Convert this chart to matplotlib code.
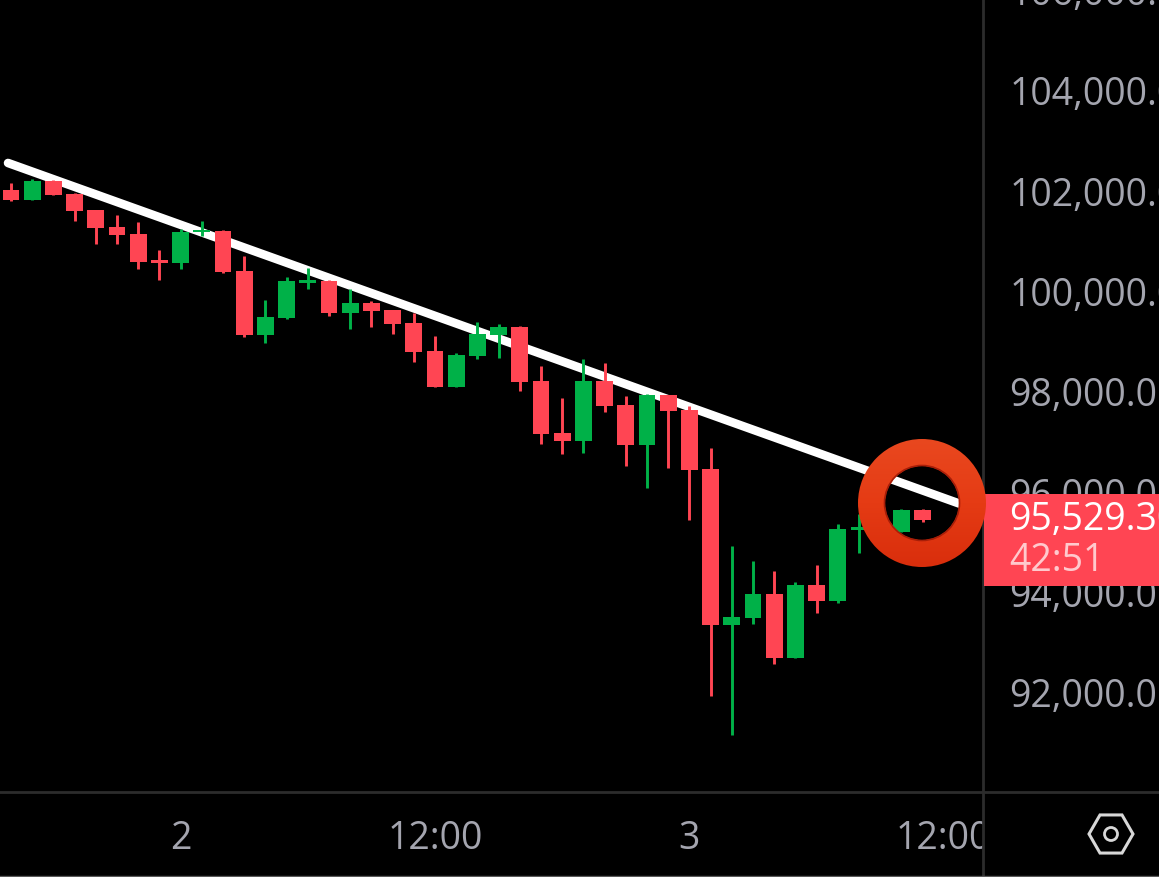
import numpy as np
import matplotlib
matplotlib.use('Agg')
import matplotlib.pyplot as plt
from matplotlib.colors import LinearSegmentedColormap
from matplotlib.patches import Annulus, Circle, Rectangle, RegularPolygon
from matplotlib.transforms import Bbox

plt.rcParams['font.family'] = ['Open Sans', 'DejaVu Sans']

# hourly candles
opens = [102027, 101827, 102206, 101947, 101628, 101289, 101149, 100631, 100571, 101189, 101209,
         100412, 99136, 99475, 100173, 100213, 99575, 99774, 99634, 99375, 98817, 98099,
         98717, 99136, 99296, 98219, 97183, 97023, 98219, 97741, 96943, 97940, 97641,
         96465, 93355, 93495, 93973, 92697, 94153, 93834, 95249, 95309, 95209, 95648]
closes = [101827, 102206, 101927, 101608, 101269, 101130, 100591, 100571, 101189, 101229, 100392,
          99136, 99495, 100213, 100232, 99575, 99774, 99614, 99355, 98797, 98099, 98737,
          99156, 99296, 98199, 97163, 97023, 98219, 97721, 96943, 97940, 97621, 96445,
          93355, 93515, 93973, 92697, 94153, 93834, 95269, 95309, 95209, 95648, 95448]
highs = [102166, 102246, 102226, 101967, 101628, 101528, 101389, 100830, 101249, 101409, 101229,
         100711, 99834, 100292, 100472, 100232, 100053, 99814, 99634, 99575, 99116, 98777,
         99395, 99355, 99316, 98518, 97880, 98658, 98578, 97920, 97960, 97940, 97721,
         96884, 94930, 94631, 94432, 94212, 94551, 95369, 95568, 95350, 95668, 95668]
lows = [101807, 101827, 101927, 101409, 100950, 100950, 100452, 100232, 100452, 101110, 100372,
        99096, 98977, 99455, 100053, 99515, 99256, 99296, 99156, 98598, 98099, 98099,
        98658, 98678, 98020, 96963, 96764, 96784, 97601, 96525, 96086, 96485, 95448,
        91940, 91163, 93375, 92578, 92697, 93594, 93794, 94790, 95190, 95209, 95408]

trend_x = [-0.14, 45.0]
trend_y = [102565, 95735]

price_ticks = [92000, 94000, 96000, 98000, 100000, 102000, 104000, 106000]
time_ticks = [8, 20, 32, 44]
time_labels = ['2', '12:00', '3', '12:00']
last_price = '95,529.30'
countdown = '42:51'

RED = '#FF4553'
GREEN = '#00B148'
TICK = '#A4A5AF'
RULE = '#2C2C2C'
W, H = 1159, 877

fig = plt.figure(figsize=(W / 100, H / 100), dpi=100, facecolor='black')

# main axes stick out over the top edge so the 106,000 label can be cut off
ax = fig.add_axes([0, 85 / H, 983 / W, 822 / H], facecolor='black')
x = np.arange(len(opens))
o, c, h, l = map(np.array, (opens, closes, highs, lows))
colors = [GREEN if b >= a else RED for a, b in zip(o, c)]

ax.plot(trend_x, trend_y, color='white', lw=6.2, solid_capstyle='round', zorder=1)
ax.vlines(x, l, h, colors=colors, lw=2.1, zorder=2)
ax.bar(x, np.abs(c - o), bottom=np.minimum(o, c), width=0.8, color=colors, zorder=3)

ax.set_xlim(-0.519, 45.85)
ax.set_ylim(90026, 106412)
for side in ax.spines.values():
    side.set_visible(False)

ax.yaxis.tick_right()
ax.set_yticks(price_ticks)
ax.set_yticklabels([f'{p:,.1f}' for p in price_ticks])
ax.tick_params(axis='y', length=0, pad=19, labelsize=27, labelcolor=TICK)
ax.set_xticks(time_ticks)
ax.set_xticklabels(time_labels)
ax.tick_params(axis='x', length=0, pad=20, labelsize=27, labelcolor=TICK)
for lab in ax.get_xticklabels():
    lab.set_clip_on(True)
    lab.set_clip_box(Bbox([[0, 0], [983, H]]))

# overlay in pixels for the app chrome and the hand drawn ring
ui = fig.add_axes([0, 0, 1, 1])
ui.axis('off')

ui.add_patch(Rectangle((984, 494), 175, 92, color=RED, lw=0, zorder=2))
ui.text(1009, 520, last_price, color='white', fontsize=27, va='center', ha='left', zorder=3)
ui.text(1009, 561, countdown, color='#FFC9CD', fontsize=27, va='center', ha='left', zorder=3)

ui.plot([0, W], [792, 792], color=RULE, lw=2, zorder=1)
ui.plot([983, 983], [0, H], color=RULE, lw=2, zorder=1)
ui.plot([0, W], [875.5, 875.5], color='#5A5A5A', lw=1, zorder=1)

ui.add_patch(RegularPolygon((1111, 834), 6, radius=22, orientation=np.pi / 6, fill=False,
                            edgecolor='#D8D8D8', lw=2.2, zorder=3))
ui.add_patch(Circle((1111, 834), 6.5, fill=False, edgecolor='#D8D8D8', lw=2, zorder=3))

ring = Annulus((922, 503), 64, 27, facecolor='none', edgecolor='none', zorder=4)
ui.add_patch(ring)
ring_cmap = LinearSegmentedColormap.from_list('ring', ['#E9481F', '#E53B14', '#D92E0C'])
im = ui.imshow(np.linspace(0, 1, 128).reshape(-1, 1), cmap=ring_cmap, aspect='auto',
               extent=(858, 986, 567, 439), zorder=4)
im.set_clip_path(ring)
ui.add_patch(Circle((922, 503), 37.5, fill=False, edgecolor='#A81E08', lw=1.2, zorder=5))

ui.set_xlim(0, W)
ui.set_ylim(H, 0)

fig.savefig('out.png', dpi=100, facecolor='black')
